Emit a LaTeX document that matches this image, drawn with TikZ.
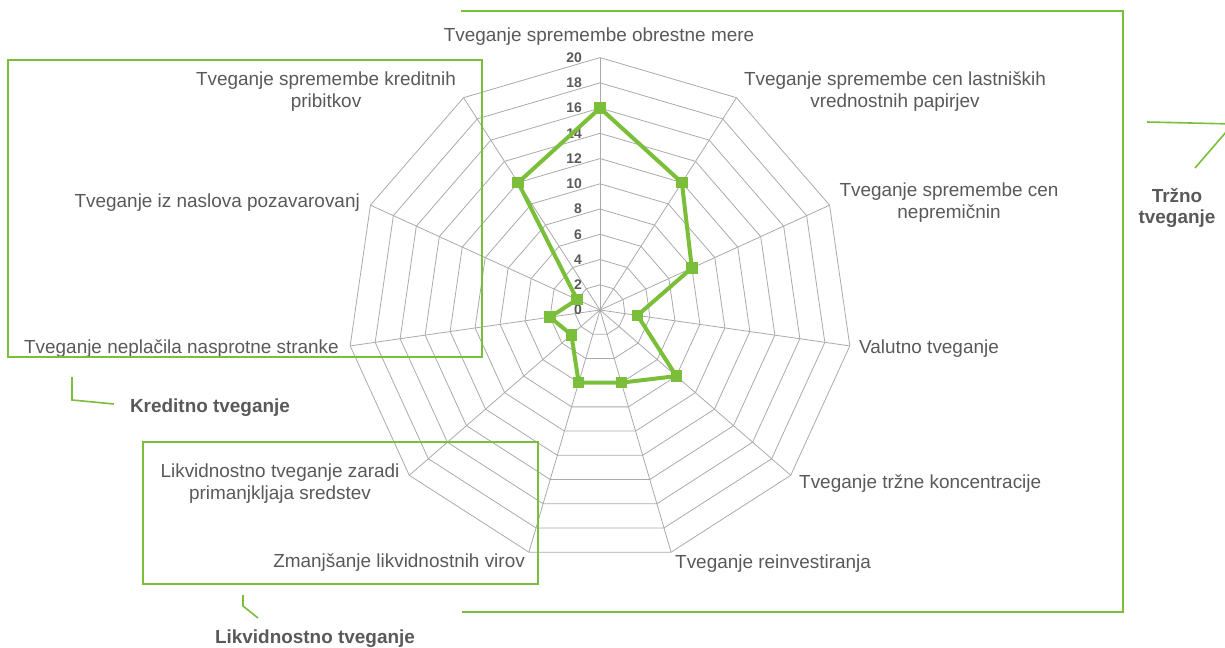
\documentclass[tikz,border=0pt]{standalone}
\usepackage{fontspec}
\setmainfont{Liberation Sans}
\usetikzlibrary{calc}
\definecolor{chartgreen}{RGB}{122,190,58}
\definecolor{gridgrey}{RGB}{170,170,170}
\definecolor{textgrey}{RGB}{89,89,89}
\tikzset{
  every node/.style = {font = \fontsize{19}{22}\selectfont, text = textgrey, inner sep = 0pt}
}
\tikzset{
  webline/.style = {draw = gridgrey, line width = 0.8bp},
  frameline/.style = {draw = chartgreen, line width = 1.6bp},
  series/.style = {draw = chartgreen, line width = 4bp, line join = round},
  dotbox/.style = {fill = chartgreen, minimum size = 11.5bp, inner sep = 0pt},
  ticklabel/.style = {font = \bfseries\fontsize{14}{14}\selectfont, anchor = east},
  grouplabel/.style = {font = \bfseries\fontsize{19}{21}\selectfont, align = center}
}

\begin{document}
\begin{tikzpicture}[x=1bp,y=-1bp]
\def\R{252.4}
\useasboundingbox (0,0) rectangle (1225,648);
\clip (0,0) rectangle (1225,648);

\coordinate (O) at (600,310);

% The web
\begin{scope}[shift={(O)}]
\foreach \r in {1,...,10}{
  \draw[webline] (-90:{\r*\R/10}) \foreach \k in {1,...,10}{ -- ({-90+\k*360/11}:{\r*\R/10}) } -- cycle;
}
\foreach \k in {0,...,10}
  \draw[webline] (0,0) -- ({-90+\k*360/11}:\R);

% Scale
\foreach \t in {0,2,...,20}
  \node[ticklabel] (t\t) at (-18,{-\t*\R/20}) {\t};

% Values
\foreach \v [count=\k from 0] in {16,12,8,3,8,6,6,3,4,2,12}
  \coordinate (p\k) at ({-90+\k*360/11}:{\v*\R/20});
\draw[series] (p0) \foreach \k in {1,...,10}{ -- (p\k) } -- cycle;
\foreach \k in {0,...,10}
  \node[dotbox] (m\k) at (p\k) {};
\end{scope}

% Axis names
\node (lblIR) at (599,37) {Tveganje spremembe obrestne mere};
\node[align=center] (lblEQ) at (895,92) {Tveganje spremembe cen lastniških\\vrednostnih papirjev};
\node[align=center] (lblRE) at (949,203) {Tveganje spremembe cen\\nepremičnin};
\node[anchor=west] (lblFX) at (859,349) {Valutno tveganje};
\node[anchor=west] (lblCO) at (799,484) {Tveganje tržne koncentracije};
\node[anchor=west] (lblRI) at (675,564) {Tveganje reinvestiranja};
\node[anchor=east] (lblLS) at (525,563) {Zmanjšanje likvidnostnih virov};
\node[align=center] (lblLA) at (280,484) {Likvidnostno tveganje zaradi\\primanjkljaja sredstev};
\node[anchor=east] (lblCP) at (339,349) {Tveganje neplačila nasprotne stranke};
\node[anchor=east] (lblRS) at (360,203) {Tveganje iz naslova pozavarovanj};
\node[align=center] (lblCS) at (326,92) {Tveganje spremembe kreditnih\\pribitkov};

% The groups
\draw[frameline] (8,60) rectangle (482,357);
\draw[frameline] (143,442) rectangle (538,584);
\draw[frameline] (461,11) -- (1123,11) -- (1123,612) -- (462,612);

\node[grouplabel] (grpMK) at (1177,208) {Tržno\\tveganje};
\node[grouplabel] (grpCR) at (210,408) {Kreditno tveganje};
\node[grouplabel] (grpLQ) at (315,639) {Likvidnostno tveganje};

\coordinate (cMK) at (1233,124);
\coordinate (cCR) at (72,400);
\coordinate (cLQ) at (243,606);
\draw[frameline] (1147,122) -- (cMK) -- (1195,168);
\draw[frameline] (72,377) -- (cCR) -- (114,404);
\draw[frameline] (243,595) -- (cLQ) -- (258,618);
\end{tikzpicture}
\end{document}
